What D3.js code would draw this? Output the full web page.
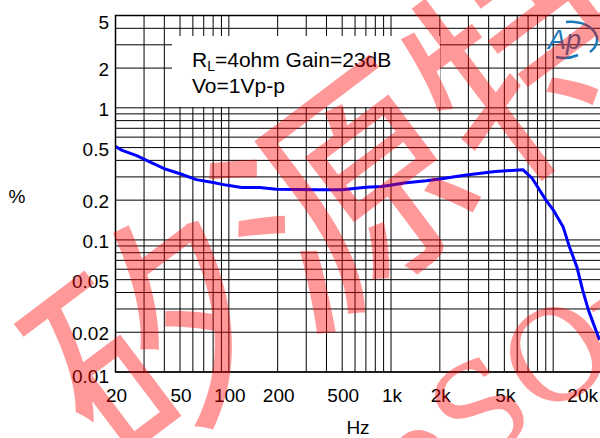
<!DOCTYPE html>
<html>
<head>
<meta charset="utf-8" />
<style>
  body { margin: 0; background: #fff; }
  text { font-family: "Liberation Sans", Arial, sans-serif; }
</style>
</head>
<body>
<svg id="chart" width="600" height="438"></svg>
<script src="https://d3js.org/d3.v7.min.js"></script>
<script>
// ---- data ----
var freqHz = [20, 22, 27, 33, 40, 50, 63, 80, 96, 120, 155, 196, 272, 350, 500, 700, 880, 1030, 1200,
              1650, 2000, 2640, 3000, 4400, 6500, 7400, 9000, 10000, 11500, 12600, 14000, 15200, 16500, 19300];
var thdPct = [0.51, 0.476, 0.434, 0.386, 0.346, 0.317, 0.286, 0.272, 0.26, 0.249, 0.249, 0.242, 0.241, 0.24,
              0.24, 0.25, 0.254, 0.262, 0.27, 0.28, 0.289, 0.305, 0.312, 0.33, 0.34, 0.294, 0.201, 0.169,
              0.126, 0.0885, 0.0624, 0.0417, 0.0294, 0.0175];
var yTicks = [0.01, 0.02, 0.05, 0.1, 0.2, 0.5, 1, 2, 5];
var xTicks = [20, 50, 100, 200, 500, 1000, 2000, 5000, 20000];
var xTickText = ["20", "50", "100", "200", "500", "1k", "2k", "5k", "20k"];

var svg = d3.select("#chart");
var pL = 115.5, pR = 602, pT = 15.5, pB = 372;

var x = d3.scaleLog().domain([20, 20000]).range([pL, pR]);
var y = d3.scaleLog().domain([0.01, 5]).range([pB, pT]);

// minor grid values 1..9 per decade
var xGrid = [], yGrid = [];
[10, 100, 1000, 10000].forEach(function(d) {
  for (var k = 1; k <= 9; k++) { var v = k * d; if (v >= 20 && v <= 20000) xGrid.push(v); }
});
[0.01, 0.1, 1].forEach(function(d) {
  for (var k = 1; k <= 9; k++) { var v = k * d; if (v <= 5.0001) yGrid.push(v); }
});

var grid = svg.append("g").attr("stroke", "#000").attr("stroke-width", 1);
grid.selectAll(".vx").data(xGrid).enter().append("line")
  .attr("x1", function(d) { return x(d); }).attr("x2", function(d) { return x(d); })
  .attr("y1", pT).attr("y2", pB);
grid.selectAll(".hy").data(yGrid).enter().append("line")
  .attr("x1", pL).attr("x2", pR)
  .attr("y1", function(d) { return y(d); }).attr("y2", function(d) { return y(d); });

// legend box hides the grid behind it
svg.append("rect").attr("x", 172).attr("y", 36).attr("width", 268).attr("height", 71).attr("fill", "#fff");
var l1 = svg.append("text").attr("x", 192).attr("y", 67).attr("font-size", 21).attr("fill", "#000");
l1.append("tspan").text("R");
l1.append("tspan").attr("font-size", 14).attr("dy", 4).text("L");
l1.append("tspan").attr("dy", -4).text("=4ohm Gain=23dB");
svg.append("text").attr("x", 192).attr("y", 93).attr("font-size", 21).attr("fill", "#000").text("Vo=1Vp-p");

// curve
svg.append("defs").append("clipPath").attr("id", "plotclip")
  .append("rect").attr("x", pL).attr("y", pT).attr("width", pR - pL).attr("height", pB - pT);
var line = d3.line()
  .x(function(d, i) { return x(freqHz[i]); })
  .y(function(d) { return y(d); });
svg.append("path").datum(thdPct)
  .attr("clip-path", "url(#plotclip)")
  .attr("fill", "none").attr("stroke", "#0000ff").attr("stroke-width", 3)
  .attr("stroke-linejoin", "round")
  .attr("d", line);

// frame
svg.append("path").attr("fill", "none").attr("stroke", "#000").attr("stroke-width", 1.5)
  .attr("d", "M" + pR + "," + pT + "H" + pL + "V" + pB + "H" + pR);

// tick labels
svg.selectAll(".yl").data(yTicks).enter().append("text")
  .attr("x", 109).attr("font-size", 19).attr("text-anchor", "end")
  .attr("y", function(d) {
    var p = y(d) + 8;
    if (d === 5) p += 5;
    if (d === 0.01) p += 3;
    return p;
  })
  .text(function(d) { return d; });
svg.selectAll(".xl").data(xTicks).enter().append("text")
  .attr("x", function(d, i) { return i === xTicks.length - 1 ? 598 : x(d) + 1; })
  .attr("y", 402).attr("font-size", 19)
  .attr("text-anchor", function(d, i) { return i === xTicks.length - 1 ? "end" : "middle"; })
  .text(function(d, i) { return xTickText[i]; });

svg.append("text").attr("x", 17).attr("y", 203).attr("font-size", 19).attr("text-anchor", "middle").text("%");
svg.append("text").attr("x", 358).attr("y", 434).attr("font-size", 19).attr("text-anchor", "middle").text("Hz");

// Ap logo
var logo = svg.append("g");
logo.append("path").attr("fill", "none").attr("stroke", "#1b78b8").attr("stroke-width", 2.5)
  .attr("d", "M566,22 A26,18 0 0 1 590,52 M578,55 A26,18 0 0 1 556,57");
logo.append("text").attr("x", 548).attr("y", 49).attr("font-size", 27).attr("font-style", "italic")
  .attr("fill", "#1b78b8").text("Ap");

// watermark
var wm = svg.append("g").attr("fill", "#ff0000").attr("opacity", 0.4);
wm.append("text").attr("transform", "translate(335,185) rotate(-37)")
  .attr("text-anchor", "middle").attr("dominant-baseline", "central")
  .style("font-family", "'Noto Sans CJK SC'").attr("font-size", 235).text("矽源特");
wm.append("text").attr("transform", "translate(470,470) rotate(-35)")
  .attr("text-anchor", "start").attr("font-size", 125)
  .style("font-family", "'DejaVu Serif', serif").text("SOurce");
wm.append("text").attr("transform", "translate(470,470) rotate(-35)")
  .attr("text-anchor", "end").attr("font-size", 125)
  .style("font-family", "'DejaVu Serif', serif").text("Chip");
</script>
</body>
</html>
